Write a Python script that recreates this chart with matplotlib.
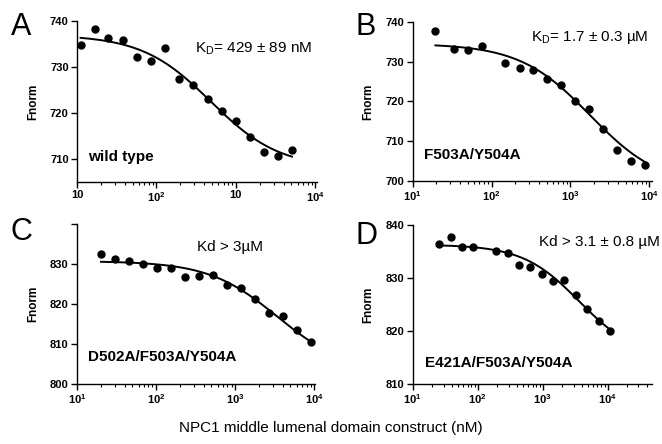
import numpy as np
import matplotlib
matplotlib.use("Agg")
import matplotlib.pyplot as plt

plt.rcParams['font.family'] = ['Liberation Sans', 'DejaVu Sans']
plt.rcParams['mathtext.fontset'] = 'custom'
plt.rcParams['mathtext.rm'] = 'Liberation Sans'
plt.rcParams['mathtext.bf'] = 'Liberation Sans:bold'

# panel A - wild type
a_conc = [11.1, 16.7, 24.8, 38, 57, 86, 129, 194, 291, 442, 662, 995, 1496, 2240, 3380, 5070]
a_fnorm = [734.8, 738.2, 736.4, 735.8, 732.1, 731.3, 734.2, 727.5, 726.1, 723.1, 720.5, 718.2, 714.7, 711.6, 710.7, 712.0]
a_fit = (737.0, 708.0, 483.0, 1.0)  # top, bottom, midpoint, slope

# panel B - F503A/Y504A
b_conc = [19.4, 33.4, 50.3, 75.6, 149, 227, 335, 504, 759, 1153, 1734, 2608, 3925, 5900, 8890]
b_fnorm = [737.7, 733.1, 732.8, 733.8, 729.7, 728.5, 727.9, 725.5, 724.2, 720.2, 718.2, 713.1, 707.8, 705.0, 704.0]
b_fit = (734.5, 698.5, 1777.0, 0.97)

# panel C - D502A/F503A/Y504A
c_conc = [20.1, 30.2, 45.3, 68, 102, 155, 233, 350, 525, 795, 1197, 1798, 2700, 4060, 6100, 9130]
c_fnorm = [832.4, 831.3, 830.8, 830.0, 829.1, 829.0, 826.7, 827.1, 827.2, 824.8, 824.0, 821.1, 817.6, 817.0, 813.4, 810.5]
c_fit = (830.7, 803.0, 3390.0, 1.0)

# panel D - E421A/F503A/Y504A
d_conc = [25.1, 38.9, 57.4, 85.8, 189, 290, 427, 646, 966, 1460, 2155, 3250, 4860, 7360, 11000]
d_fnorm = [836.5, 837.8, 835.8, 835.8, 835.1, 834.7, 832.4, 832.0, 830.8, 829.5, 829.7, 826.8, 824.2, 821.9, 820.0]
d_fit = (836.3, 815.0, 3643.0, 1.0)

sup_labels = ['$\\mathbf{10^{1}}$', '$\\mathbf{10^{2}}$', '$\\mathbf{10^{3}}$', '$\\mathbf{10^{4}}$']

panels = [
    dict(letter='A', letterpos=(11, 12), conc=a_conc, fnorm=a_fnorm, fit=a_fit, ylim=(705, 740),
         yticks=[710, 720, 730, 740], ylabels=['710', '720', '730', '740'], xmax=10**4.02,
         xlabels=['10', '$\\mathbf{10^{2}}$', '10', '$\\mathbf{10^{4}}$'],
         kd='K$_{\\mathregular{D}}$= 429 ± 89 nM', kdpos=(195, 49),
         name='wild type', namepos=(88, 157), rect=[0.1163, 0.590, 0.3625, 0.3626]),
    dict(letter='B', letterpos=(355, 12), conc=b_conc, fnorm=b_fnorm, fit=b_fit, ylim=(700, 740),
         yticks=[700, 710, 720, 730, 740], ylabels=['700', '710', '720', '730', '740'], xmax=10**4.03,
         xlabels=sup_labels, kd='K$_{\\mathregular{D}}$= 1.7 ± 0.3 µM', kdpos=(531, 37),
         name='F503A/Y504A', namepos=(424, 155), rect=[0.6234, 0.5923, 0.361, 0.3588]),
    dict(letter='C', letterpos=(11, 217), conc=c_conc, fnorm=c_fnorm, fit=c_fit, ylim=(800, 840),
         yticks=[800, 810, 820, 830, 840], ylabels=['800', '810', '820', '830', ''], xmax=10**4.01,
         xlabels=sup_labels, kd='Kd > 3µM', kdpos=(197, 247),
         name='D502A/F503A/Y504A', namepos=(88, 357), rect=[0.1163, 0.1358, 0.3595, 0.3597]),
    dict(letter='D', letterpos=(355, 221), conc=d_conc, fnorm=d_fnorm, fit=d_fit, ylim=(810, 840),
         yticks=[810, 820, 830, 840], ylabels=['810', '820', '830', '840'], xmax=10**4.68,
         xlabels=sup_labels, kd='Kd > 3.1 ± 0.8 µM', kdpos=(539, 242),
         name='E421A/F503A/Y504A', namepos=(425, 363), rect=[0.6234, 0.1345, 0.361, 0.3588]),
]

W, H = 662, 444
fig = plt.figure(figsize=(W / 100, H / 100), dpi=100)

for p in panels:
    ax = fig.add_axes(p['rect'])
    ax.set_xscale('log')
    ax.plot(p['conc'], p['fnorm'], 'o', color='black', markersize=5, zorder=3)
    top, bottom, mid, slope = p['fit']
    xs = np.logspace(np.log10(p['conc'][0]), np.log10(p['conc'][-1]), 200)
    ys = bottom + (top - bottom) / (1 + (xs / mid) ** slope)
    ax.plot(xs, ys, color='black', lw=1.4)

    ax.set_xlim(10, p['xmax'])
    ax.set_ylim(*p['ylim'])
    ax.set_yticks(p['yticks'])
    ax.set_yticklabels(p['ylabels'], fontweight='bold', fontsize=8)
    ax.set_xticks([10, 100, 1000, 10000])
    ax.set_xticklabels(p['xlabels'], fontweight='bold', fontsize=8)
    ax.xaxis.set_minor_locator(matplotlib.ticker.LogLocator(base=10, subs=np.arange(2, 10)))
    ax.xaxis.set_minor_formatter(matplotlib.ticker.NullFormatter())
    for s in ['top', 'right']:
        ax.spines[s].set_visible(False)
    for s in ['left', 'bottom']:
        ax.spines[s].set_linewidth(1.0)
    ax.tick_params(direction='out', length=4, width=1.0, pad=2)
    ax.tick_params(which='minor', length=2.2, width=0.8)
    ax.set_ylabel('Fnorm', fontweight='bold', fontsize=8.5, labelpad=8)

    fig.text(p['letterpos'][0] / W, 1 - p['letterpos'][1] / H, p['letter'], fontsize=22, va='top', ha='left')
    fig.text(p['kdpos'][0] / W, 1 - p['kdpos'][1] / H, p['kd'], fontsize=11, va='center', ha='left')
    fig.text(p['namepos'][0] / W, 1 - p['namepos'][1] / H, p['name'], fontsize=11,
             fontweight='bold', va='center', ha='left')

fig.text(0.5, 1 - 428 / H, 'NPC1 middle lumenal domain construct (nM)', fontsize=11, ha='center', va='center')

fig.savefig('out.png', dpi=100)
